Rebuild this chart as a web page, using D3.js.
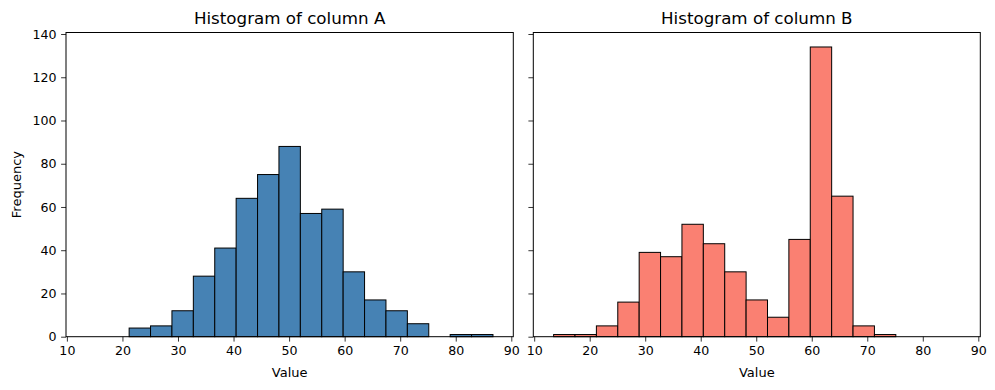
<!DOCTYPE html>
<html>
<head>
<meta charset="utf-8">
<script src="https://cdn.jsdelivr.net/npm/d3@7/dist/d3.min.js"></script>
<style>
  body { margin: 0; background: #fff; }
  svg { display: block; font-family: "DejaVu Sans", sans-serif; }
</style>
</head>
<body>
<svg id="chart"></svg>
<script>
const width = 995;
const height = 390;

// shared bin edges (19 bins)
const binMin = 13.5;
const binMax = 86.7;
const binCount = 19;

const countsA = [0, 0, 4, 5, 12, 28, 41, 64, 75, 88, 57, 59, 30, 17, 12, 6, 0, 1, 1];
const countsB = [1, 1, 5, 16, 39, 37, 52, 43, 30, 17, 9, 45, 134, 65, 5, 1, 0, 0, 0];

const xTicks = [10, 20, 30, 40, 50, 60, 70, 80, 90];
const yTicks = [0, 20, 40, 60, 80, 100, 120, 140];

const panels = [
  { title: "Histogram of column A", counts: countsA, color: "steelblue", left: 66, right: 513.3, yLabels: true },
  { title: "Histogram of column B", counts: countsB, color: "salmon", left: 533.3, right: 980.3, yLabels: false }
];

const plotTop = 32.5;
const plotBottom = 336.7;
const tickFont = "12.6px";
const labelFont = "13px";

const svg = d3.select("#chart")
  .attr("width", width)
  .attr("height", height);

const binW = (binMax - binMin) / binCount;
const pad = (binMax - binMin) * 0.05;
const maxCount = d3.max(countsA.concat(countsB));

const y = d3.scaleLinear()
  .domain([0, maxCount * 1.05])
  .range([plotBottom, plotTop]);

panels.forEach(p => {
  const x = d3.scaleLinear()
    .domain([binMin - pad, binMax + pad])
    .range([p.left, p.right]);

  const g = svg.append("g");

  const bins = p.counts.map((c, i) => ({ x0: binMin + i * binW, x1: binMin + (i + 1) * binW, c }));

  g.selectAll("rect")
    .data(bins)
    .enter()
    .append("rect")
    .attr("x", d => x(d.x0))
    .attr("y", d => y(d.c))
    .attr("width", d => x(d.x1) - x(d.x0))
    .attr("height", d => y(0) - y(d.c))
    .attr("fill", p.color)
    .attr("stroke", "#000")
    .attr("stroke-width", 1);

  // x axis
  const xAxis = g.append("g")
    .attr("transform", `translate(0,${plotBottom})`)
    .call(d3.axisBottom(x).tickValues(xTicks).tickSize(4.9).tickPadding(4).tickSizeOuter(0));
  xAxis.select(".domain").remove();
  xAxis.selectAll("text").attr("font-size", tickFont).attr("fill", "#000").attr("font-family", "DejaVu Sans");
  xAxis.selectAll("line").attr("stroke", "#000").attr("stroke-width", 0.8);

  // y axis
  const yAxis = g.append("g")
    .attr("transform", `translate(${p.left},0)`)
    .call(d3.axisLeft(y).tickValues(yTicks).tickSize(4.9).tickPadding(4.5).tickSizeOuter(0));
  yAxis.select(".domain").remove();
  yAxis.selectAll("line").attr("stroke", "#000").attr("stroke-width", 0.8);
  if (p.yLabels) {
    yAxis.selectAll("text").attr("font-size", tickFont).attr("fill", "#000").attr("font-family", "DejaVu Sans");
  } else {
    yAxis.selectAll("text").remove();
  }

  // frame
  g.append("rect")
    .attr("x", p.left)
    .attr("y", plotTop)
    .attr("width", p.right - p.left)
    .attr("height", plotBottom - plotTop)
    .attr("fill", "none")
    .attr("stroke", "#000")
    .attr("stroke-width", 1);

  g.append("text")
    .attr("x", (p.left + p.right) / 2)
    .attr("y", plotTop - 8.5)
    .attr("text-anchor", "middle")
    .attr("font-size", "16.7px")
    .text(p.title);

  g.append("text")
    .attr("x", (p.left + p.right) / 2)
    .attr("y", 377)
    .attr("text-anchor", "middle")
    .attr("font-size", labelFont)
    .text("Value");
});

svg.append("text")
  .attr("transform", `translate(21,${(plotTop + plotBottom) / 2}) rotate(-90)`)
  .attr("text-anchor", "middle")
  .attr("font-size", labelFont)
  .text("Frequency");
</script>
</body>
</html>
